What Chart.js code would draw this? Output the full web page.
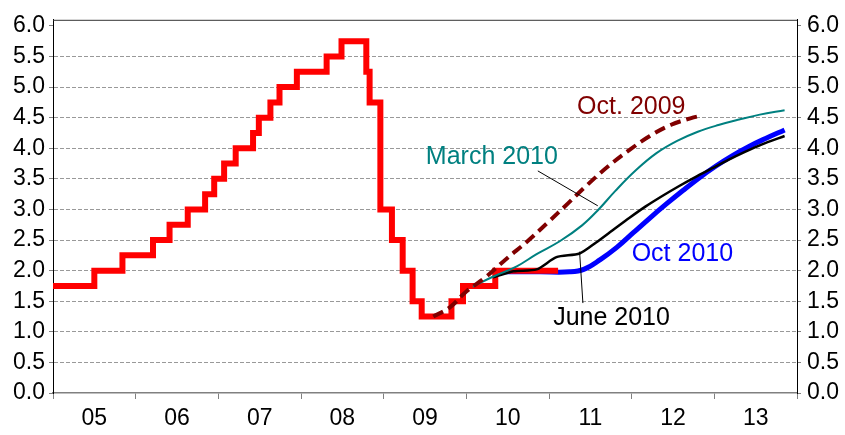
<!DOCTYPE html>
<html>

<head>
  <script src="https://cdn.jsdelivr.net/npm/chart.js@4/dist/chart.umd.min.js"></script>
  <style>
    body { margin: 0; background: #fff; }
    #wrap { width: 845px; height: 435px; }
  </style>
</head>

<body>
  <div id="wrap"><canvas id="chart"></canvas></div>
  <script>
    // key policy rate: dates of change (decimal years) and new level
    const rateDates = [2005.0, 2005.50, 2005.84, 2006.21, 2006.41, 2006.63, 2006.84, 2006.95, 2007.07, 2007.21,
      2007.42, 2007.49, 2007.63, 2007.74, 2007.95, 2008.31, 2008.49, 2008.79, 2008.83, 2008.96,
      2009.10, 2009.23, 2009.35, 2009.46, 2009.82, 2009.96, 2010.35, 2011.11];
    const rateValues = [1.75, 2.0, 2.25, 2.5, 2.75, 3.0, 3.25, 3.5, 3.75, 4.0,
      4.25, 4.5, 4.75, 5.0, 5.25, 5.5, 5.75, 5.25, 4.75, 3.0,
      2.5, 2.0, 1.5, 1.25, 1.5, 1.75, 2.0, 2.0];

    // forecast paths
    const oct09Dates = [2009.60, 2009.80, 2010.00, 2010.24, 2010.49, 2010.73, 2010.98, 2011.23, 2011.47, 2011.72,
      2011.97, 2012.22, 2012.47, 2012.71, 2012.86];
    const oct09Values = [1.25, 1.40, 1.66, 1.90, 2.20, 2.47, 2.78, 3.10, 3.41, 3.71,
      3.97, 4.20, 4.38, 4.49, 4.54];

    const mar10Dates = [2010.08, 2010.32, 2010.61, 2010.85, 2011.13, 2011.40, 2011.60, 2011.80, 2012.05, 2012.30,
      2012.55, 2012.80, 2013.05, 2013.30, 2013.55, 2013.85];
    const mar10Values = [1.74, 1.90, 2.07, 2.27, 2.48, 2.74, 3.00, 3.30, 3.64, 3.92,
      4.12, 4.27, 4.38, 4.47, 4.55, 4.62];

    const jun10Dates = [2010.32, 2010.57, 2010.85, 2011.09, 2011.37, 2011.57, 2011.77, 2011.97, 2012.17, 2012.37,
      2012.57, 2012.77, 2012.97, 2013.17, 2013.37, 2013.57, 2013.85];
    const jun10Values = [1.89, 1.99, 2.02, 2.22, 2.28, 2.46, 2.66, 2.86, 3.05, 3.22,
      3.38, 3.53, 3.67, 3.81, 3.94, 4.06, 4.20];

    const oct10Dates = [2010.45, 2010.89, 2011.25, 2011.42, 2011.62, 2011.82, 2012.02, 2012.22, 2012.42, 2012.62,
      2012.82, 2013.02, 2013.22, 2013.42, 2013.62, 2013.85];
    const oct10Values = [1.98, 1.98, 1.98, 2.02, 2.18, 2.38, 2.62, 2.86, 3.09, 3.31,
      3.52, 3.71, 3.88, 4.03, 4.16, 4.30];

    const yearLabels = ['05', '06', '07', '08', '09', '10', '11', '12', '13'];
    const yTicks = [0, 0.5, 1, 1.5, 2, 2.5, 3, 3.5, 4, 4.5, 5, 5.5, 6];

    const FONT = '"Liberation Sans", Arial, sans-serif';

    const pts = (xs, ys) => xs.map((x, i) => ({ x: x, y: ys[i] }));

    const notes = [
      { text: 'Oct. 2009', x: 2011.34, y: 4.56, color: '#800000' },
      { text: 'March 2010', x: 2009.51, y: 3.75, color: '#008080' },
      { text: 'June 2010', x: 2011.05, y: 1.11, color: '#000000' },
      { text: 'Oct 2010', x: 2012.00, y: 2.15, color: '#0000ff' }
    ];
    const leaders = [
      [2010.865, 3.63, 2011.59, 3.06],
      [2011.41, 1.47, 2011.37, 2.31]
    ];

    const overlay = {
      id: 'overlay',
      afterDatasetsDraw(chart) {
        const { ctx, chartArea: a } = chart;
        const x = chart.scales.x, y = chart.scales.y;
        ctx.save();
        ctx.strokeStyle = '#333';
        ctx.lineWidth = 1;
        ctx.beginPath();
        ctx.moveTo(a.left, a.top + 0.5);
        ctx.lineTo(a.right, a.top + 0.5);
        ctx.stroke();

        ctx.strokeStyle = '#000';
        leaders.forEach(l => {
          ctx.beginPath();
          ctx.moveTo(x.getPixelForValue(l[0]), y.getPixelForValue(l[1]));
          ctx.lineTo(x.getPixelForValue(l[2]), y.getPixelForValue(l[3]));
          ctx.stroke();
        });

        ctx.font = '25px ' + FONT;
        ctx.textAlign = 'left';
        ctx.textBaseline = 'alphabetic';
        notes.forEach(n => {
          ctx.fillStyle = n.color;
          ctx.fillText(n.text, x.getPixelForValue(n.x), y.getPixelForValue(n.y));
        });
        ctx.restore();
      }
    };

    const setYTicks = s => { s.ticks = yTicks.map(v => ({ value: v })); };
    const tickFont = { family: FONT, size: 23 };

    new Chart('chart', {
      type: 'line',
      data: {
        datasets: [
          {
            label: 'Oct. 2009', data: pts(oct09Dates, oct09Values), order: 1,
            borderColor: '#800000', borderWidth: 4, borderDash: [11, 6], tension: 0.4
          },
          {
            label: 'March 2010', data: pts(mar10Dates, mar10Values), order: 2,
            borderColor: '#008080', borderWidth: 2, tension: 0.4
          },
          {
            label: 'June 2010', data: pts(jun10Dates, jun10Values), order: 3,
            borderColor: '#000000', borderWidth: 2.5, tension: 0.25
          },
          {
            label: 'Key policy rate', data: pts(rateDates, rateValues), order: 4,
            borderColor: '#ff0000', borderWidth: 6, stepped: 'before',
            borderJoinStyle: 'miter', borderCapStyle: 'butt'
          },
          {
            label: 'Oct 2010', data: pts(oct10Dates, oct10Values), order: 5,
            borderColor: '#0000ff', borderWidth: 5, tension: 0.4
          }
        ]
      },
      options: {
        responsive: true,
        maintainAspectRatio: false,
        animation: false,
        layout: { padding: { top: 15, left: 0, right: 0, bottom: 0 } },
        elements: { point: { radius: 0 } },
        plugins: { legend: { display: false }, tooltip: { enabled: false } },
        scales: {
          x: {
            type: 'linear', min: 2005, max: 2014,
            afterBuildTicks: s => {
              s.ticks = [];
              for (let i = 0; i <= yearLabels.length; i++) {
                s.ticks.push({ value: 2005 + i });
                if (i < yearLabels.length) s.ticks.push({ value: 2005.5 + i });
              }
            },
            afterFit: s => { s.height = 42; },
            grid: {
              drawOnChartArea: false, tickLength: 6,
              tickColor: c => (c.tick && c.tick.value % 1 === 0) ? '#808080' : 'transparent'
            },
            border: { color: '#808080', width: 1.5 },
            ticks: {
              autoSkip: false, maxRotation: 0, padding: 6, color: '#000', font: tickFont,
              callback: v => (v % 1) ? yearLabels[Math.floor(v) - 2005] : ''
            }
          },
          y: {
            position: 'left', min: 0, max: 6.1,
            afterBuildTicks: setYTicks,
            afterFit: s => { s.width = 53; },
            grid: {
              color: c => (c.tick && (c.tick.value === 0 || c.tick.value === 6)) ? 'transparent' : '#999999',
              tickColor: '#808080', tickLength: 4
            },
            border: { color: '#000', width: 1, dash: [4, 2] },
            ticks: { padding: 4, color: '#000', font: tickFont, callback: v => v.toFixed(1) }
          },
          y2: {
            position: 'right', min: 0, max: 6.1,
            afterBuildTicks: setYTicks,
            afterFit: s => { s.width = 48; },
            grid: { drawOnChartArea: false, tickColor: '#808080', tickLength: 4 },
            border: { color: '#000', width: 1 },
            ticks: { padding: 6, color: '#000', font: tickFont, callback: v => v.toFixed(1) }
          }
        }
      },
      plugins: [overlay]
    });
  </script>
</body>

</html>
